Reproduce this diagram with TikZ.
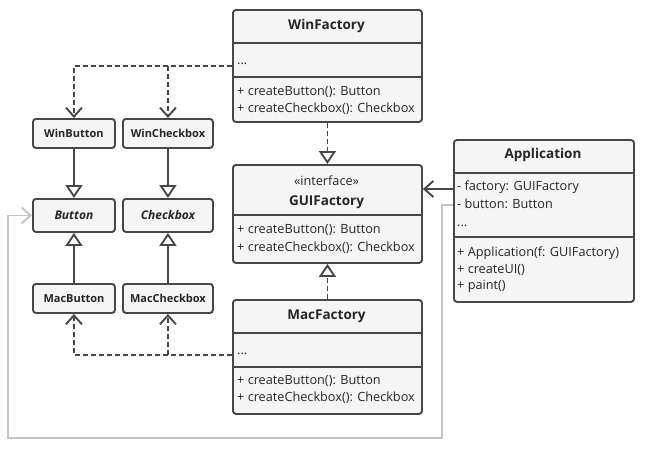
\documentclass[tikz,border=0pt]{standalone}
\usepackage{fontspec}
\setmainfont{Open Sans}
\usetikzlibrary{arrows.meta,calc}
\definecolor{bord}{HTML}{474747}
\definecolor{boxfill}{HTML}{F5F5F5}
\definecolor{lgray}{HTML}{C4C4C4}
\definecolor{txtc}{HTML}{262626}
\begin{document}
\begin{tikzpicture}[x=1pt,y=-1pt,
  box/.style={draw=bord, fill=boxfill, line width=1.9pt, rounded corners=3pt, inner sep=0pt, anchor=north west},
  divider/.style={draw=bord, line width=1.7pt},
  txt/.style={inner sep=0pt, anchor=west, text=txtc, font=\fontsize{12.7}{14}\selectfont, text height=9pt, text depth=2.7pt},
  ttl/.style={inner sep=0pt, text=txtc, font=\fontsize{13.5}{15}\bfseries\selectfont, text height=9.5pt, text depth=2.7pt},
  small/.style={inner sep=0pt, text=txtc, font=\fontsize{11}{13}\bfseries\selectfont},
  conn/.style={draw=bord, line width=1.9pt},
  dep/.style={conn, dash pattern=on 5pt off 3pt, -{Straight Barb[length=9pt,width=16pt,line width=1.9pt]}},
  realize/.style={conn, dash pattern=on 5pt off 3pt, -{Triangle[open,length=13pt,width=17pt,line width=1.9pt,fill=white]}},
  inherit/.style={conn, -{Triangle[open,length=13pt,width=17pt,line width=1.9pt,fill=white]}},
  assoc/.style={conn, -{Straight Barb[length=9pt,width=16pt,line width=1.9pt]}},
  gassoc/.style={draw=lgray, line width=1.9pt, -{Straight Barb[length=9pt,width=16pt,line width=1.9pt]}}
]
\useasboundingbox (0,0) rectangle (647,463);

% ---------- WinFactory ----------
\node[box, minimum width=189pt, minimum height=112pt] (wf) at (232,9) {};
\draw[divider] (232,43) -- (421,43);
\draw[divider] (232,77) -- (421,77);
\node[ttl] (wft) at (326.5,26) {WinFactory};
\node[txt] (wfd1) at (237,61) {...};
\node[txt] (wfm1) at (237,92) {+ createButton(): Button};
\node[txt] (wfm2) at (237,109) {+ createCheckbox(): Checkbox};

% ---------- GUIFactory ----------
\node[box, minimum width=189pt, minimum height=98pt] (gui) at (232,164) {};
\draw[divider] (232,215) -- (421,215);
\node[txt, anchor=center] (guis) at (326.5,182) {«interface»};
\node[ttl] (guit) at (326.5,202) {GUIFactory};
\node[txt] (guim1) at (237,230) {+ createButton(): Button};
\node[txt] (guim2) at (237,248) {+ createCheckbox(): Checkbox};

% ---------- MacFactory ----------
\node[box, minimum width=189pt, minimum height=114pt] (mf) at (232,299) {};
\draw[divider] (232,333) -- (421,333);
\draw[divider] (232,367) -- (421,367);
\node[ttl] (mft) at (326.5,316) {MacFactory};
\node[txt] (mfd1) at (237,351) {...};
\node[txt] (mfm1) at (237,381) {+ createButton(): Button};
\node[txt] (mfm2) at (237,398) {+ createCheckbox(): Checkbox};

% ---------- Application ----------
\node[box, minimum width=180pt, minimum height=162pt] (app) at (453,139) {};
\draw[divider] (453,173) -- (633,173);
\draw[divider] (453,237) -- (633,237);
\node[ttl] (appt) at (543,155) {Application};
\node[txt] (appf1) at (457,187) {- factory: GUIFactory};
\node[txt] (appf2) at (457,205) {- button: Button};
\node[txt] (appf3) at (457,223) {...};
\node[txt] (appm1) at (457,253) {+ Application(f: GUIFactory)};
\node[txt] (appm2) at (457,270) {+ createUI()};
\node[txt] (appm3) at (457,286) {+ paint()};

% ---------- small boxes ----------
\node[box, minimum width=82pt, minimum height=29pt] (wb) at (32,118) {};
\node[small] at (wb.center) {WinButton};
\node[box, minimum width=90pt, minimum height=29pt] (wc) at (122,118) {};
\node[small] at (wc.center) {WinCheckbox};
\node[box, minimum width=82pt, minimum height=33pt] (bt) at (32,198) {};
\node[small, font=\fontsize{12}{14}\bfseries\itshape\selectfont] at (bt.center) {Button};
\node[box, minimum width=90pt, minimum height=33pt] (cb) at (122,198) {};
\node[small, font=\fontsize{12}{14}\bfseries\itshape\selectfont] at (cb.center) {Checkbox};
\node[box, minimum width=82pt, minimum height=29pt] (mb) at (32,283) {};
\node[small] at (mb.center) {MacButton};
\node[box, minimum width=90pt, minimum height=29pt] (mc) at (122,283) {};
\node[small] at (mc.center) {MacCheckbox};

% ---------- connectors ----------
\coordinate (wfc) at (232,66);
\coordinate (mfc) at (232,355);
\coordinate (appc1) at (453,189);
\coordinate (appc2) at (453,205);
\coordinate (gturn1) at (442,205);
\coordinate (gturn2) at (442,438);
\coordinate (gturn3) at (8,438);

\draw[dep] (wfc) -| (wb.north);
\draw[dep] (wfc -| wc.north) -- (wc.north);
\draw[dep] (mfc) -| (mb.south);
\draw[dep] (mfc -| mc.south) -- (mc.south);

\draw[inherit] (wb.south) -- (bt.north);
\draw[inherit] (wc.south) -- (cb.north);
\draw[inherit] (mb.north) -- (bt.south);
\draw[inherit] (mc.north) -- (cb.south);

\draw[realize] (wf.south) -- (gui.north);
\draw[realize] (mf.north) -- (gui.south);

\draw[assoc] (appc1) -- (appc1 -| gui.east);
\draw[gassoc] (appc2) -- (gturn1) -- (gturn2) -- (gturn3) |- (bt.west);
\end{tikzpicture}
\end{document}
